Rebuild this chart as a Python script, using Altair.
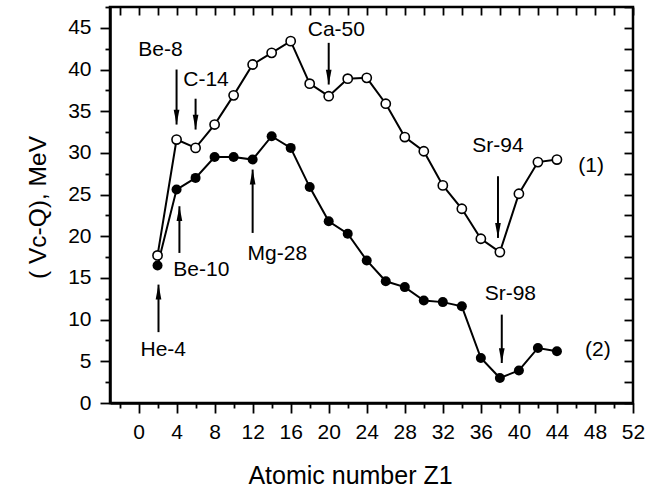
import altair as alt
import pandas as pd

# ---- data ----
z = [2, 4, 6, 8, 10, 12, 14, 16, 18, 20, 22, 24, 26, 28, 30, 32, 34, 36, 38, 40, 42, 44]
series1 = [17.7, 31.6, 30.6, 33.4, 36.9, 40.6, 42.0, 43.4, 38.3, 36.8, 38.9, 39.0,
           35.9, 31.9, 30.2, 26.1, 23.3, 19.7, 18.1, 25.1, 28.9, 29.2]
series2 = [16.5, 25.6, 27.0, 29.5, 29.5, 29.2, 32.0, 30.6, 25.9, 21.8, 20.3, 17.1,
           14.6, 13.9, 12.3, 12.1, 11.6, 5.4, 3.0, 3.9, 6.6, 6.2]

label_text = ["Be-8", "C-14", "Ca-50", "Sr-94", "(1)", "Sr-98", "(2)", "Mg-28", "Be-10", "He-4"]
label_x = [2.3, 7.1, 20.8, 37.8, 47.6, 39.1, 48.3, 14.6, 6.6, 2.6]
label_y = [42.3, 38.8, 44.8, 30.8, 28.4, 13.1, 6.4, 17.9, 16.0, 6.4]

arrow_x = [4, 6, 20, 37.8, 38.2, 12, 4.3, 2.1]
arrow_from = [40.0, 36.5, 43.2, 27.2, 10.6, 20.4, 18.0, 8.5]
arrow_to = [33.4, 32.8, 38.2, 19.8, 4.8, 28.0, 23.6, 14.2]

x_ticks = [v for v in range(-2, 53, 2)]
y_ticks = [v * 2.5 for v in range(0, 20)]

FONT = "Liberation Sans"
W, H = 523, 396

df1 = pd.DataFrame({"z": z, "v": series1})
df2 = pd.DataFrame({"z": z, "v": series2})
dlab = pd.DataFrame({"t": label_text, "x": label_x, "y": label_y})
darr = pd.DataFrame({"x": arrow_x, "y1": arrow_from, "y2": arrow_to})
darr["dir"] = ["down" if b < a else "up" for a, b in zip(arrow_from, arrow_to)]

xs = alt.Scale(domain=[-3, 52], nice=False, zero=False)
ys = alt.Scale(domain=[0, 47.5], nice=False, zero=False)

x_main = alt.Axis(
    values=x_ticks, orient="bottom", title="Atomic number Z1",
    labelExpr="datum.value % 4 === 0 ? datum.label : ''",
    tickSize={"condition": {"test": "datum.value % 4 === 0", "value": 10}, "value": 5},
    labelPadding=8, labelFontSize=21, labelFont=FONT, labelFlush=False,
    titleFont=FONT, titleFontSize=25, titleFontWeight="normal",
    titleX=240, titleY=72, titleBaseline="middle", titleAnchor="start", titleAlign="center",
    grid=False,
)
y_main = alt.Axis(
    values=y_ticks, orient="left", title="( Vc-Q), MeV",
    labelExpr="datum.value % 5 === 0 ? datum.label : ''",
    tickSize={"condition": {"test": "datum.value % 5 === 0", "value": 10}, "value": 5},
    labelPadding=9, labelFontSize=21, labelFont=FONT, labelFlush=False,
    titleFont=FONT, titleFontSize=24.5, titleFontWeight="normal",
    titleX=-72, titleY=200, titleBaseline="middle", titleAnchor="start", titleAlign="center",
    grid=False,
)
x_top = alt.Axis(
    values=x_ticks, orient="top", offset=-8, labels=False, title=None, domain=False,
    tickSize=8, grid=False,
)
y_right = alt.Axis(
    values=y_ticks, orient="right", offset=-9, labels=False, title=None, domain=False,
    tickSize=9, grid=False,
)

line1 = alt.Chart(df1).mark_line(color="black", strokeWidth=2).encode(
    x=alt.X("z:Q", scale=xs, axis=x_main),
    y=alt.Y("v:Q", scale=ys, axis=y_main),
)
line2 = alt.Chart(df2).mark_line(color="black", strokeWidth=2).encode(
    x=alt.X("z:Q", scale=xs, axis=x_top),
    y=alt.Y("v:Q", scale=ys, axis=y_right),
)
pts1 = alt.Chart(df1).mark_point(shape="circle", filled=True, fill="white", stroke="black",
                                 strokeWidth=1.6, size=85, opacity=1).encode(
    x=alt.X("z:Q", scale=xs, axis=None),
    y=alt.Y("v:Q", scale=ys, axis=None),
)
pts2 = alt.Chart(df2).mark_circle(color="black", size=100, opacity=1).encode(
    x=alt.X("z:Q", scale=xs, axis=None),
    y=alt.Y("v:Q", scale=ys, axis=None),
)
rules = alt.Chart(darr).mark_rule(color="black", strokeWidth=2).encode(
    x=alt.X("x:Q", scale=xs, axis=None),
    y=alt.Y("y1:Q", scale=ys, axis=None),
    y2="y2:Q",
)
heads_down = alt.Chart(darr).transform_filter("datum.dir === 'down'").mark_point(
    shape="M0,0 L-0.5,-2.6 L0.5,-2.6 Z", filled=True, color="black", size=130, opacity=1
).encode(
    x=alt.X("x:Q", scale=xs, axis=None),
    y=alt.Y("y2:Q", scale=ys, axis=None),
)
heads_up = alt.Chart(darr).transform_filter("datum.dir === 'up'").mark_point(
    shape="M0,0 L-0.5,2.6 L0.5,2.6 Z", filled=True, color="black", size=130, opacity=1
).encode(
    x=alt.X("x:Q", scale=xs, axis=None),
    y=alt.Y("y2:Q", scale=ys, axis=None),
)
texts = alt.Chart(dlab).mark_text(font=FONT, fontSize=21, color="black",
                                  align="center", baseline="middle").encode(
    x=alt.X("x:Q", scale=xs, axis=None),
    y=alt.Y("y:Q", scale=ys, axis=None),
    text="t:N",
)

chart = alt.layer(line1, line2, pts1, pts2, rules, heads_down, heads_up, texts).resolve_axis(
    x="independent", y="independent"
).properties(
    width=W, height=H,
    padding={"left": 110, "top": 7, "right": 23, "bottom": 86},
    autosize=alt.AutoSizeParams(type="none"),
    background="white",
).configure_view(
    stroke="black", strokeWidth=2.5
).configure_axis(
    domainColor="black", domainWidth=2.5, tickColor="black", tickWidth=1.8,
    labelColor="black", titleColor="black",
)

chart.save("out.html", embed_options={"renderer": "svg", "actions": False})
